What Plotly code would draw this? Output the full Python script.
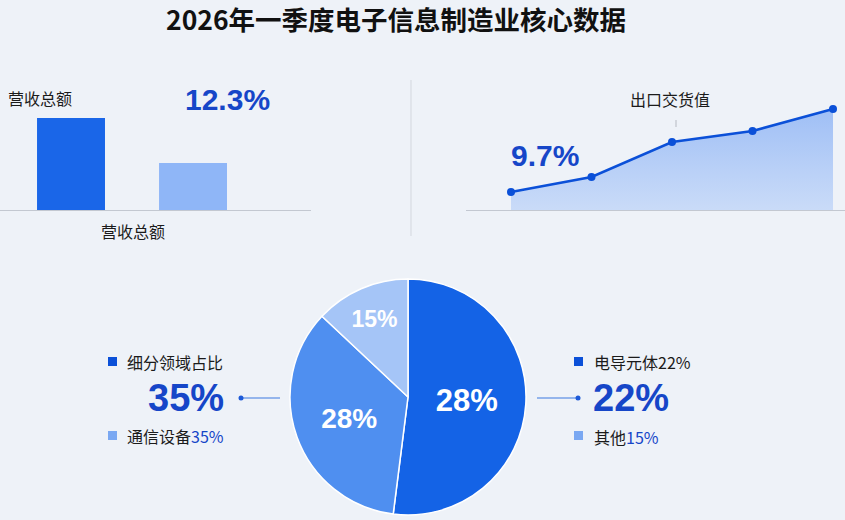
import plotly.graph_objects as go

W, H = 845, 520

# ---------------- data ----------------
title_text = "2026年一季度电子信息制造业核心数据"

bar_categories = ["本期", "上年同期"]
bar_values = [92, 47]
bar_label = "营收总额"
bar_growth = "12.3%"

line_periods = ["P1", "P2", "P3", "P4", "P5"]
line_values = [18, 33, 68, 79, 101]
line_label = "出口交货值"
line_growth = "9.7%"

pie_labels = ["电子元件", "通信设备", "其他"]
pie_values = [52, 35, 13]
pie_text = ["28%", "28%", "15%"]

left_head = "细分领域占比"
left_big = "35%"
left_item_name = "通信设备"
left_item_val = "35%"
right_head = "电导元体22%"
right_big = "22%"
right_item_name = "其他"
right_item_val = "15%"

# ---------------- style ----------------
CJK = "Noto Sans CJK SC"
NUM = "Liberation Sans, Arial, Noto Sans CJK SC"
DARK = "#1463e6"
MID = "#4f8ff0"
LIGHT = "#a5c5f7"
TXT_BLUE = "#1646c8"
AXIS = "#c3c8d1"


def px(x):
    return x / W


def py(y):
    return 1 - y / H


fig = go.Figure()

# bar chart
fig.add_trace(go.Bar(
    x=bar_categories, y=bar_values, width=0.557,
    marker=dict(color=["#1a66e8", "#8fb6f7"], line=dict(width=0)),
    xaxis="x", yaxis="y", showlegend=False, hoverinfo="skip",
))

# line / area chart
fig.add_trace(go.Scatter(
    x=line_periods, y=line_values, mode="lines+markers",
    line=dict(color="#0b50d8", width=2.5),
    marker=dict(color="#0b50d8", size=8),
    fill="tozeroy",
    fillgradient=dict(type="vertical",
                      colorscale=[[0, "rgba(195,215,248,0.85)"], [1, "rgba(150,185,245,0.9)"]]),
    xaxis="x2", yaxis="y2", showlegend=False, hoverinfo="skip",
))

# pie
fig.add_trace(go.Pie(
    labels=pie_labels, values=pie_values, text=pie_text,
    texttemplate="%{text}", textposition="inside",
    insidetextorientation="horizontal",
    textfont=dict(family=NUM, size=[31, 28, 23], color="white", weight="bold"),
    marker=dict(colors=[DARK, MID, LIGHT], line=dict(color="white", width=1.5)),
    sort=False, direction="clockwise", rotation=0,
    domain=dict(x=[px(290), px(526)], y=[py(515), py(279)]),
    showlegend=False, hoverinfo="skip",
))

y_dom = [py(210), py(104)]
fig.update_layout(
    width=W, height=H,
    margin=dict(l=0, r=0, t=0, b=0),
    paper_bgcolor="#eef2f8", plot_bgcolor="rgba(0,0,0,0)",
    font=dict(family=CJK, color="#1b1b1b"),
    xaxis=dict(domain=[0, px(311)], range=[-0.582, 1.967], showticklabels=False,
               showgrid=False, zeroline=False, showline=True, linecolor=AXIS, linewidth=1,
               ticks="", fixedrange=True),
    yaxis=dict(domain=y_dom, range=[0, 106], visible=False, fixedrange=True),
    xaxis2=dict(domain=[px(466), 1], range=[-0.559, 4.149], showticklabels=False,
                showgrid=False, zeroline=False, showline=True, linecolor=AXIS, linewidth=1,
                ticks="", anchor="y2", fixedrange=True),
    yaxis2=dict(domain=y_dom, range=[0, 106], visible=False, anchor="x2", fixedrange=True),
)

ann = []


def add_text(x, y, text, size, color="#1b1b1b", family=CJK, xanchor="center", bold=False):
    ann.append(dict(x=px(x), y=py(y), xref="paper", yref="paper", text=text,
                    showarrow=False, xanchor=xanchor, yanchor="middle",
                    font=dict(family=family, size=size, color=color,
                              weight="bold" if bold else "normal")))


add_text(396, 19, title_text, 26.5, color="#111111", bold=True)
add_text(6, 98, bar_label, 16, xanchor="left")
add_text(227, 99, bar_growth, 30, color=TXT_BLUE, family=NUM, bold=True)
add_text(133, 231, bar_label, 16)
add_text(670, 99, line_label, 16)
add_text(545, 155, line_growth, 30, color=TXT_BLUE, family=NUM, bold=True)

add_text(125, 362, left_head, 16, xanchor="left")
add_text(186, 398, left_big, 38, color=TXT_BLUE, family=NUM, bold=True)
add_text(125, 436, f"{left_item_name}<span style='color:{TXT_BLUE}'>{left_item_val}</span>", 16, xanchor="left")

add_text(592, 362, right_head, 16, xanchor="left")
add_text(631, 398, right_big, 38, color=TXT_BLUE, family=NUM, bold=True)
add_text(592, 437, f"{right_item_name}<span style='color:{TXT_BLUE}'>{right_item_val}</span>", 16, xanchor="left")

shapes = []


def rect(x0, y0, x1, y1, color):
    shapes.append(dict(type="rect", xref="paper", yref="paper", x0=px(x0), x1=px(x1),
                       y0=py(y1), y1=py(y0), fillcolor=color, line=dict(width=0)))


def line(x0, y0, x1, y1, color, width=1):
    shapes.append(dict(type="line", xref="paper", yref="paper", x0=px(x0), x1=px(x1),
                       y0=py(y0), y1=py(y1), line=dict(color=color, width=width)))


def dot(x, y, r, color):
    shapes.append(dict(type="circle", xref="paper", yref="paper", x0=px(x - r), x1=px(x + r),
                       y0=py(y + r), y1=py(y - r), fillcolor=color, line=dict(width=0)))


# dividers
line(411, 80, 411, 236, "#d3d7de", 1)
line(676, 120, 676, 127, "#c8ccd4", 1.5)

# legend squares
rect(108, 357, 117, 366, "#0b50d8")
rect(108, 431, 117, 440, "#7aa8f2")
rect(574, 357, 583, 366, "#0b50d8")
rect(574, 431, 583, 440, "#7aa8f2")

# connectors
line(241, 398, 280, 398, "#3a78e0", 1.2)
dot(241, 398, 2.5, "#1d5ad8")
line(537, 398, 578, 398, "#3a78e0", 1.2)
dot(578, 398, 2.5, "#1d5ad8")

fig.update_layout(annotations=ann, shapes=shapes)

fig.write_html("out.html",
               config={"displayModeBar": False},
               post_script="document.body.style.margin='0';document.body.style.background='#eef2f8';")
